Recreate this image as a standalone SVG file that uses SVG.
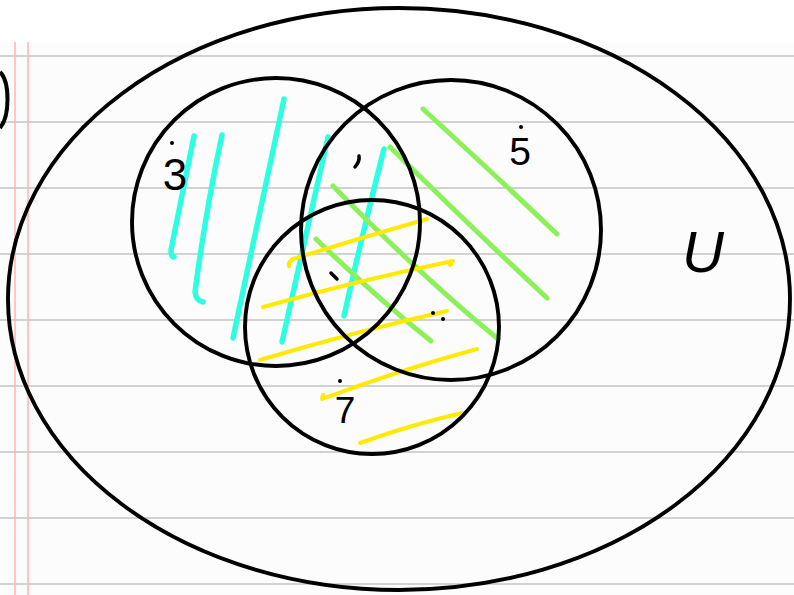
<svg xmlns="http://www.w3.org/2000/svg" width="794" height="595" viewBox="0 0 794 595">
  <style>
    .rule { stroke: #d2d2d2; stroke-width: 2; }
    .margin { stroke: #ffb4b4; stroke-width: 1.5; }
    .set { fill: none; stroke: #000; stroke-width: 3.9; }
    .cyan { fill: none; stroke: #2effe2; stroke-width: 5.5; stroke-linecap: round; stroke-linejoin: round; }
    .green { fill: none; stroke: #8cf05a; stroke-width: 5; stroke-linecap: round; stroke-linejoin: round; }
    .yellow { fill: none; stroke: #ffea00; stroke-width: 4; stroke-linecap: round; stroke-linejoin: round; }
    .label { font-family: "Liberation Sans", Arial, sans-serif; fill: #000; text-anchor: middle; }
    .mark { fill: none; stroke: #000; stroke-width: 3.5; stroke-linecap: round; }
  </style>

  <g id="paper">
    <rect x="0" y="0" width="794" height="595" fill="#ffffff"/>
    <rect x="0" y="42" width="794" height="553" fill="#fcfcfc"/>
    <line class="rule" x1="0" y1="56" x2="794" y2="56"/>
    <line class="rule" x1="0" y1="122" x2="794" y2="122"/>
    <line class="rule" x1="0" y1="188" x2="794" y2="188"/>
    <line class="rule" x1="0" y1="254" x2="794" y2="254"/>
    <line class="rule" x1="0" y1="320" x2="794" y2="320"/>
    <line class="rule" x1="0" y1="386" x2="794" y2="386"/>
    <line class="rule" x1="0" y1="452" x2="794" y2="452"/>
    <line class="rule" x1="0" y1="518" x2="794" y2="518"/>
    <line class="rule" x1="0" y1="584" x2="794" y2="584"/>
    <line class="margin" x1="15" y1="42" x2="15" y2="595"/>
    <line class="margin" x1="28" y1="42" x2="28" y2="595"/>
    <path d="M0,72 C10,82 10,116 0,128" fill="none" stroke="#000" stroke-width="4"/>
  </g>

  <g id="universe">
    <ellipse class="set" cx="399" cy="299" rx="391" ry="291"/>
    <text class="label" x="703" y="272" font-size="58" font-style="italic">U</text>
  </g>

  <g id="hatch-cyan">
    <path class="cyan" d="M194,136 Q181,200 171,250 Q171,257 174,257"/>
    <path class="cyan" d="M222,135 Q205,215 195,292 Q196,301 203,302"/>
    <path class="cyan" d="M284,99 Q258,220 233,338"/>
    <path class="cyan" d="M328,137 Q305,240 282,342"/>
    <path class="cyan" d="M384,149 Q362,235 344,316"/>
  </g>

  <g id="hatch-green">
    <path class="green" d="M423,109 Q495,175 557,234"/>
    <path class="green" d="M390,147 Q472,228 547,298"/>
    <path class="green" d="M333,186 Q420,275 498,339"/>
    <path class="green" d="M316,239 Q377,298 431,341"/>
  </g>

  <g id="hatch-yellow">
    <path class="yellow" d="M427,219 Q360,238 293,259 Q288,262 289,266"/>
    <path class="yellow" d="M263,307 Q360,280 453,261 L450,265"/>
    <path class="yellow" d="M260,360 Q350,333 447,311"/>
    <path class="yellow" d="M323,395 L322,399 Q400,370 477,349"/>
    <path class="yellow" d="M360,443 Q410,425 462,413"/>
  </g>

  <g id="set3">
    <circle class="set" cx="276" cy="222" r="144"/>
    <text class="label" x="175" y="190" font-size="44">3</text>
    <circle cx="172" cy="143" r="2"/>
  </g>

  <g id="set5">
    <circle class="set" cx="451" cy="230" r="150"/>
    <text class="label" x="520" y="165" font-size="39">5</text>
    <circle cx="521" cy="127" r="2"/>
  </g>

  <g id="set7">
    <circle class="set" cx="372" cy="327" r="127"/>
    <text class="label" x="345" y="423" font-size="37">7</text>
    <circle cx="340" cy="381" r="2"/>
  </g>

  <g id="marks">
    <path class="mark" d="M359,156 Q360,161 355,167"/>
    <path class="mark" d="M331,273 L337,279"/>
    <circle cx="433" cy="313" r="2"/>
    <circle cx="443" cy="319" r="2"/>
  </g>
</svg>
